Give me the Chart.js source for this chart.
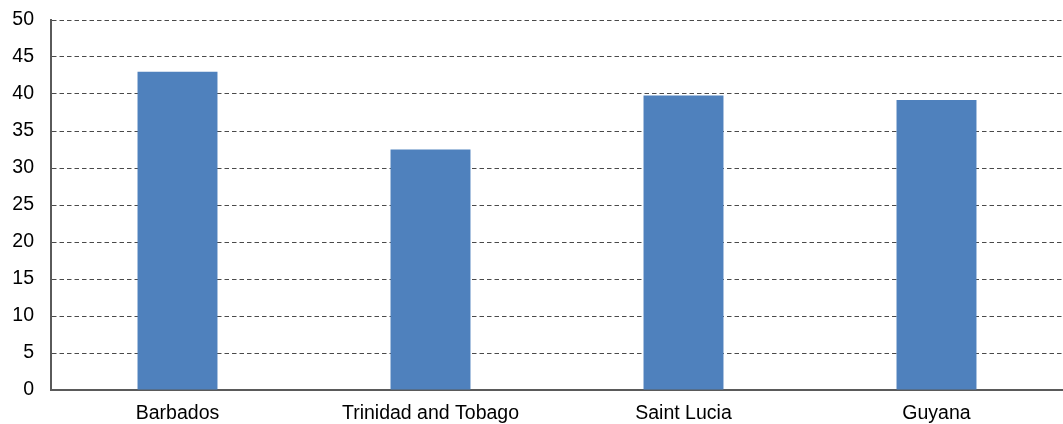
<!DOCTYPE html>
<html>
<head>
<meta charset="utf-8">
<script src="https://cdn.jsdelivr.net/npm/chart.js@4"></script>
<style>
  html, body { margin: 0; padding: 0; background: #ffffff; }
  #wrap { width: 1063px; height: 424px; position: relative; }
</style>
</head>
<body>
<div id="wrap"><canvas id="chart" width="1063" height="424"></canvas></div>
<script>
// Countries along the category axis
const countries = ['Barbados', 'Trinidad and Tobago', 'Saint Lucia', 'Guyana'];
// One value per country
const values = [43.0, 32.5, 39.8, 39.2];
// Value axis range and step
const yMin = 0;
const yMax = 50;
const yStep = 5;

const FONT = '"Liberation Sans", Arial, sans-serif';
const AXIS_GREY = '#5a5a5a';

new Chart(document.getElementById('chart'), {
  type: 'bar',
  data: {
    labels: countries,
    datasets: [{
      data: values,
      backgroundColor: '#4f81bd',
      borderWidth: 0,
      categoryPercentage: 1.0,
      barPercentage: 0.316
    }]
  },
  options: {
    responsive: false,
    animation: false,
    devicePixelRatio: 1,
    layout: { padding: { top: 20, right: 0, left: 0, bottom: 0 } },
    plugins: {
      legend: { display: false },
      tooltip: { enabled: false }
    },
    scales: {
      x: {
        grid: { display: false, drawTicks: false },
        border: { display: true, color: AXIS_GREY, width: 2 },
        ticks: {
          color: '#000000',
          font: { family: FONT, size: 19.5 },
          padding: 12,
          maxRotation: 0,
          autoSkip: false
        },
        afterFit: (scale) => { scale.height = 34; }
      },
      y: {
        min: yMin,
        max: yMax,
        grid: {
          color: '#4a4a4a',
          lineWidth: 1,
          drawTicks: false
        },
        border: { display: true, color: AXIS_GREY, width: 2, dash: [4.5, 3] },
        ticks: {
          stepSize: yStep,
          color: '#000000',
          font: { family: FONT, size: 19.5 },
          padding: 17
        },
        afterFit: (scale) => {
          scale.width = 51;
          scale.paddingTop = 0;
          scale.paddingBottom = 0;
        }
      }
    }
  }
});
</script>
</body>
</html>
